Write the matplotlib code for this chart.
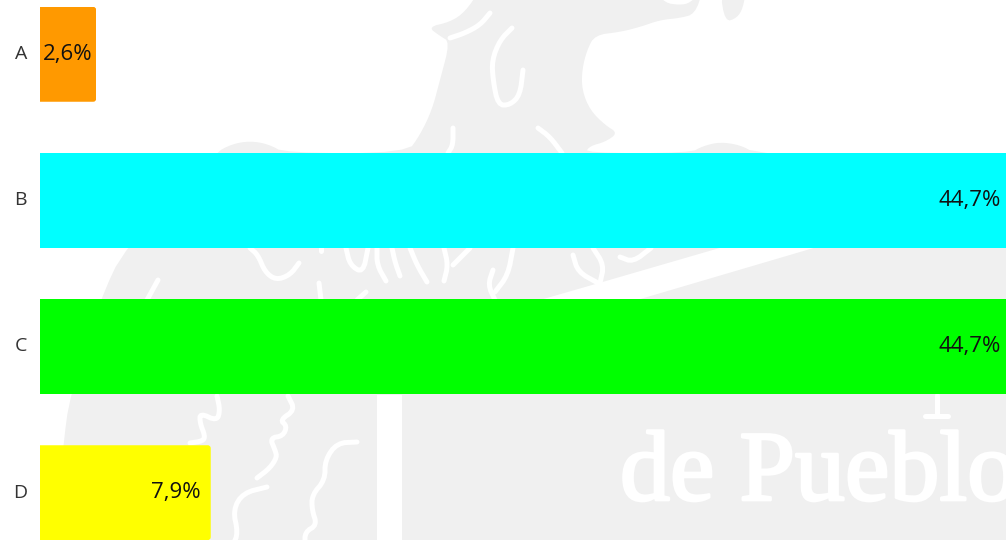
import matplotlib
matplotlib.use("Agg")
import matplotlib.pyplot as plt
import matplotlib.patheffects as pe
from matplotlib.patches import FancyBboxPatch, Polygon, BoxStyle
from matplotlib.transforms import ScaledTranslation

# --- данные ---
categories = ["A", "B", "C", "D"]
values = [2.6, 44.7, 44.7, 7.9]
colors = ["#ff9900", "#00ffff", "#00ff00", "#ffff00"]
label_pads = [4, 5, 5, 10]  # отступ подписи от конца столбца, px

W, H = 1006, 540
GRAY = "#f0f0f0"

# --- водяной знак (в пикселях картинки) ---
SILHOUETTE = [
    (480, -10), (465, 12), (450, 22), (428, 27), (440, 36), (450, 42), (440, 80), (432, 110),
    (420, 135), (407, 153), (285, 153), (268, 144), (250, 141), (232, 144), (215, 153),
    (125, 247), (100, 300), (70, 395), (63, 446), (45, 640), (1400, 900), (1400, 247),
    (755, 153), (740, 145), (720, 142), (703, 146), (690, 153), (585, 153), (590, 146),
    (605, 142), (618, 133), (605, 125), (590, 110), (582, 90), (582, 70), (587, 50), (595, 35),
    (620, 32), (640, 27), (660, 20), (680, 18), (695, 14), (703, -10), (690, 3), (680, 5),
    (665, 3), (655, -10),
]
BEAK = [(720, -10), (725, 22), (737, 18), (743, 8), (746, -10)]
BAND = [(540, 300), (606, 281), (723, 247), (817, 247), (637, 300)]
COLUMN = [(377, 395), (402, 395), (402, 560), (377, 560)]

STROKES = [
    [(490, 13), (480, 25), (465, 33), (450, 38)],
    [(512, 28), (500, 40), (492, 60), (493, 80), (498, 105), (510, 105), (520, 95), (523, 70)],
    [(453, 128), (453, 145), (448, 153)],
    [(538, 128), (550, 137), (562, 153)],
    [(250, 248), (258, 255), (265, 272), (276, 280), (290, 275), (299, 263)],
    [(321, 247), (321, 251)],
    [(319, 283), (321, 300)],
    [(366, 292), (357, 300)],
    [(346, 248), (350, 265), (363, 273), (368, 248)],
    [(377, 248), (377, 265), (386, 281)],
    [(392, 248), (395, 262), (400, 276)],
    [(410, 248), (417, 265), (427, 282)],
    [(444, 248), (448, 265), (444, 281)],
    [(470, 248), (453, 265)],
    [(513, 248), (508, 275), (495, 292)],
    [(493, 270), (488, 285), (495, 300)],
    [(573, 255), (578, 272), (598, 283)],
    [(593, 248), (604, 265), (600, 283)],
    [(620, 257), (633, 262), (651, 248)],
    [(158, 280), (147, 300)],
    [(217, 396), (220, 410), (217, 421), (200, 413), (200, 423), (205, 436), (203, 441), (190, 443)],
    [(288, 396), (295, 410), (280, 420), (287, 426), (283, 436), (270, 438), (275, 450),
     (277, 457), (270, 468), (257, 478)],
    [(267, 487), (243, 493), (233, 510), (238, 533), (233, 545)],
    [(357, 442), (337, 443), (325, 460), (325, 480), (312, 495), (312, 510), (317, 525),
     (305, 532), (305, 545)],
    [(937, 395), (937, 415)],
    [(925, 416), (948, 416)],
]


def fmt(v):
    return f"{v:.1f}".replace(".", ",") + "%"


def smooth(pts, closed=False, n=2):
    # срезаем углы, чтобы контур не был ломаным
    for _ in range(n):
        out = [pts[0]] if not closed else []
        m = len(pts) if closed else len(pts) - 1
        for i in range(m):
            x0, y0 = pts[i]
            x1, y1 = pts[(i + 1) % len(pts)]
            out.append((0.75 * x0 + 0.25 * x1, 0.75 * y0 + 0.25 * y1))
            out.append((0.25 * x0 + 0.75 * x1, 0.25 * y0 + 0.75 * y1))
        if not closed:
            out.append(pts[-1])
        pts = out
    return pts


fig = plt.figure(figsize=(W / 100, H / 100), dpi=100, facecolor="white")

bg = fig.add_axes([0, 0, 1, 1])
bg.set_xlim(0, W)
bg.set_ylim(H, 0)
bg.axis("off")
for shape in (SILHOUETTE, BEAK):
    bg.add_patch(Polygon(smooth(shape, closed=True), closed=True, fc=GRAY, ec="none"))
for shape in (BAND, COLUMN):
    bg.add_patch(Polygon(shape, closed=True, fc="white", ec="none"))
for line in STROKES:
    xs, ys = zip(*smooth(line))
    bg.plot(xs, ys, color="white", lw=3.6, solid_capstyle="round", solid_joinstyle="round")
bg.text(620, 500, "de Pueblo", family="Liberation Serif", fontsize=72, color="white",
        ha="left", va="baseline", clip_on=True,
        path_effects=[pe.withStroke(linewidth=2, foreground="white")])

# --- сами столбцы ---
ax = fig.add_axes([40 / W, 0, 966 / W, 533 / H])
ax.patch.set_alpha(0)
bars = ax.barh(range(len(values)), values, height=0.649, color=colors, zorder=2)
ax.set_xlim(0, max(values))
ax.set_ylim(3.324, -0.324)
ax.set_xticks([])
ax.set_yticks(range(len(categories)), categories, fontsize=14, family="Open Sans", color="#333333")
ax.tick_params(axis="y", length=0, pad=9.4)
shift = ScaledTranslation(0, 1.5 / 72, fig.dpi_scale_trans)
for lab in ax.get_yticklabels():
    lab.set_transform(lab.get_transform() + shift)
for s in ax.spines.values():
    s.set_visible(False)

# скругляем правые углы у коротких столбцов
px_x = max(values) / 966
px_y = 3.648 / 533
for bar, v, pad in zip(bars, values, label_pads):
    if v < max(values):
        clip = FancyBboxPatch((-1, bar.get_y()), v + 1, bar.get_height(),
                              boxstyle=BoxStyle("Round", pad=0, rounding_size=3 * px_x),
                              mutation_aspect=px_y / px_x, transform=ax.transData)
        bar.set_clip_path(clip)
    ax.annotate(fmt(v), (v, bar.get_y() + bar.get_height() / 2), xytext=(-pad * 0.72, 0),
                textcoords="offset points", ha="right", va="center", fontsize=16,
                family="Open Sans", color="#111111", zorder=3, annotation_clip=False)

fig.savefig("out.png", dpi=100, facecolor="white")
